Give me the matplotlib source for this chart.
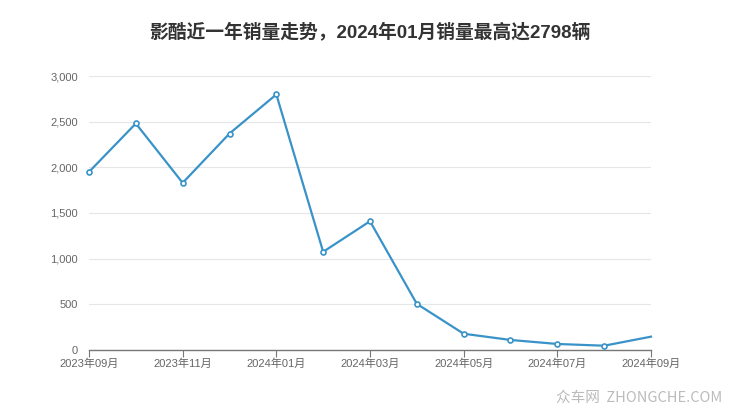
import matplotlib
matplotlib.use("Agg")
import matplotlib.pyplot as plt

plt.rcParams['font.family'] = ['Noto Sans CJK SC', 'DejaVu Sans']

months = ["2023年09月", "2023年10月", "2023年11月", "2023年12月", "2024年01月", "2024年02月",
          "2024年03月", "2024年04月", "2024年05月", "2024年06月", "2024年07月", "2024年08月", "2024年09月"]
sales = [1950, 2480, 1830, 2370, 2798, 1075, 1410, 505, 178, 110, 66, 47, 146]
yticks = [0, 500, 1000, 1500, 2000, 2500, 3000]
ytick_labels = ["0", "500", "1,000", "1,500", "2,000", "2,500", "3,000"]
title = "影酷近一年销量走势，2024年01月销量最高达2798辆"

fig = plt.figure(figsize=(7.4, 4.17), dpi=100)
ax = fig.add_axes([89/740, 1-350/417, (651-89)/740, (350-76)/417])

x = list(range(len(months)))
color = "#3a93c8"
ax.plot(x, sales, color=color, lw=1.6, zorder=3, clip_on=False)
ax.plot(x[:-1], sales[:-1], ls="none", marker="o", ms=3.6, mfc="white", mec=color, mew=1.2, zorder=4, clip_on=False)

ax.set_xlim(0, len(months) - 1)
ax.set_ylim(0, 3000)
ax.set_yticks(yticks)
ax.set_yticklabels(ytick_labels)
ax.set_xticks(x[::2])
ax.set_xticklabels(months[::2])
tick_font = ['Liberation Sans', 'Noto Sans CJK SC']
for lbl in ax.get_xticklabels() + ax.get_yticklabels():
    lbl.set_family(tick_font)
ax.grid(axis="y", color="#e6e6e6", lw=0.8)
ax.set_axisbelow(True)
for s in ["top", "right", "left"]:
    ax.spines[s].set_visible(False)
ax.spines["bottom"].set_color("#777777")
ax.spines["bottom"].set_linewidth(1.0)
ax.tick_params(axis="y", length=0, labelsize=8, labelcolor="#666666", pad=8)
ax.tick_params(axis="x", length=5, color="#777777", labelsize=8, labelcolor="#666666", pad=1)

fig.text(0.5, 1-32/417, title, ha="center", va="center", fontsize=13.5, fontweight="bold",
         color="#333333", family=['Liberation Sans', 'Noto Sans CJK SC'])
fig.text(722/740, 1-398/417, "众车网  ZHONGCHE.COM", ha="right", va="center", fontsize=10.5, color="#bbbbbb")

fig.savefig("out.png", dpi=100)
